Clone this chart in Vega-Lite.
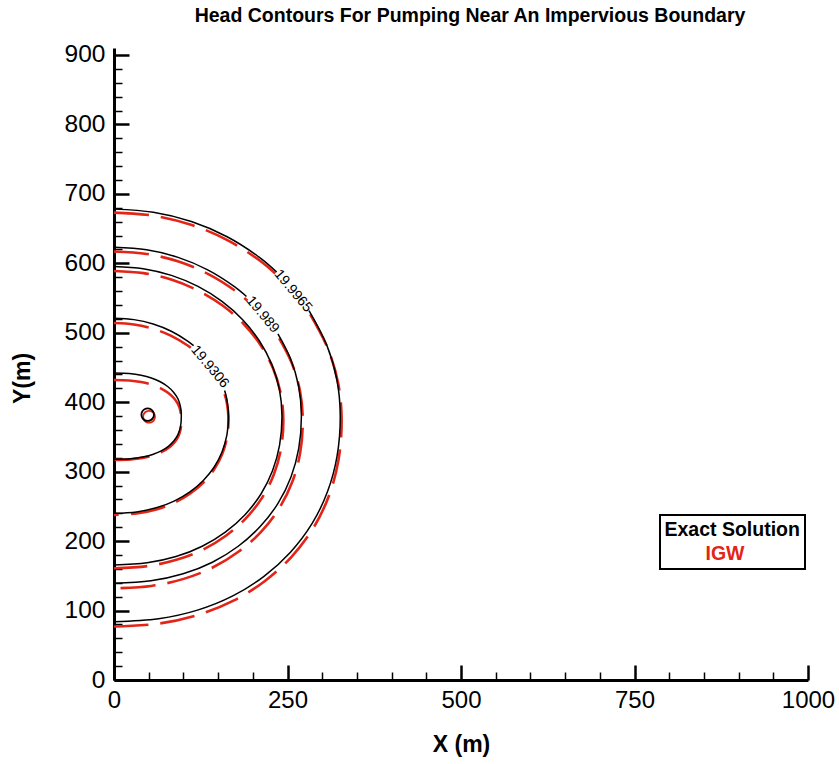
{
  "$schema": "https://vega.github.io/schema/vega-lite/v6.json",
  "autosize": {"type": "none"},
  "padding": {"left": 114, "top": 48, "right": 31, "bottom": 84},
  "width": 694,
  "height": 632,
  "background": "white",
  "title": {
    "text": "Head Contours For Pumping Near An Impervious Boundary",
    "font": "Liberation Sans",
    "fontSize": 19.5,
    "fontWeight": "bold",
    "color": "black",
    "anchor": "middle",
    "offset": 15,
    "dx": 9
  },
  "config": {"view": {"stroke": null}},
  "datasets": {
    "contours": [
      {"s": "Exact Solution", "g": "B1", "i": 0, "x": 0, "y": 442},
      {"s": "Exact Solution", "g": "B1", "i": 1, "x": 21.9, "y": 441.2},
      {"s": "Exact Solution", "g": "B1", "i": 2, "x": 39, "y": 438.8},
      {"s": "Exact Solution", "g": "B1", "i": 3, "x": 53.8, "y": 434.9},
      {"s": "Exact Solution", "g": "B1", "i": 4, "x": 66.6, "y": 429.4},
      {"s": "Exact Solution", "g": "B1", "i": 5, "x": 77.3, "y": 422.6},
      {"s": "Exact Solution", "g": "B1", "i": 6, "x": 85.8, "y": 414.4},
      {"s": "Exact Solution", "g": "B1", "i": 7, "x": 92.1, "y": 404.9},
      {"s": "Exact Solution", "g": "B1", "i": 8, "x": 95.7, "y": 394},
      {"s": "Exact Solution", "g": "B1", "i": 9, "x": 97, "y": 380},
      {"s": "Exact Solution", "g": "B1", "i": 10, "x": 95.8, "y": 364.7},
      {"s": "Exact Solution", "g": "B1", "i": 11, "x": 92.3, "y": 353.7},
      {"s": "Exact Solution", "g": "B1", "i": 12, "x": 86.4, "y": 344.4},
      {"s": "Exact Solution", "g": "B1", "i": 13, "x": 78.4, "y": 336.5},
      {"s": "Exact Solution", "g": "B1", "i": 14, "x": 68.1, "y": 329.9},
      {"s": "Exact Solution", "g": "B1", "i": 15, "x": 55.7, "y": 324.8},
      {"s": "Exact Solution", "g": "B1", "i": 16, "x": 41.1, "y": 321},
      {"s": "Exact Solution", "g": "B1", "i": 17, "x": 24, "y": 318.7},
      {"s": "Exact Solution", "g": "B1", "i": 18, "x": 0, "y": 318},

      {"s": "Exact Solution", "g": "B2a", "i": 0, "x": 0, "y": 521},
      {"s": "Exact Solution", "g": "B2a", "i": 1, "x": 28.7, "y": 518.9},
      {"s": "Exact Solution", "g": "B2a", "i": 2, "x": 56.4, "y": 512.6},
      {"s": "Exact Solution", "g": "B2a", "i": 3, "x": 82.5, "y": 502.2},
      {"s": "Exact Solution", "g": "B2a", "i": 4, "x": 106.1, "y": 488.1},
      {"s": "Exact Solution", "g": "B2a", "i": 5, "x": 114.7, "y": 481.5},
      {"s": "Exact Solution", "g": "B2b", "i": 0, "x": 159.4, "y": 416.9},
      {"s": "Exact Solution", "g": "B2b", "i": 1, "x": 162.5, "y": 404.9},
      {"s": "Exact Solution", "g": "B2b", "i": 2, "x": 165, "y": 380.5},
      {"s": "Exact Solution", "g": "B2b", "i": 3, "x": 162.7, "y": 352.8},
      {"s": "Exact Solution", "g": "B2b", "i": 4, "x": 155.8, "y": 328.7},
      {"s": "Exact Solution", "g": "B2b", "i": 5, "x": 144.4, "y": 306.7},
      {"s": "Exact Solution", "g": "B2b", "i": 6, "x": 128.7, "y": 287.3},
      {"s": "Exact Solution", "g": "B2b", "i": 7, "x": 109.4, "y": 270.9},
      {"s": "Exact Solution", "g": "B2b", "i": 8, "x": 86.6, "y": 257.6},
      {"s": "Exact Solution", "g": "B2b", "i": 9, "x": 60.9, "y": 247.9},
      {"s": "Exact Solution", "g": "B2b", "i": 10, "x": 32.5, "y": 242},
      {"s": "Exact Solution", "g": "B2b", "i": 11, "x": 0, "y": 240},

      {"s": "Exact Solution", "g": "B3", "i": 0, "x": 0, "y": 595.5},
      {"s": "Exact Solution", "g": "B3", "i": 1, "x": 42.1, "y": 592.3},
      {"s": "Exact Solution", "g": "B3", "i": 2, "x": 82.8, "y": 582.6},
      {"s": "Exact Solution", "g": "B3", "i": 3, "x": 121, "y": 566.7},
      {"s": "Exact Solution", "g": "B3", "i": 4, "x": 155.6, "y": 545.2},
      {"s": "Exact Solution", "g": "B3", "i": 5, "x": 185.4, "y": 518.8},
      {"s": "Exact Solution", "g": "B3", "i": 6, "x": 209.6, "y": 488.1},
      {"s": "Exact Solution", "g": "B3", "i": 7, "x": 227.5, "y": 454.1},
      {"s": "Exact Solution", "g": "B3", "i": 8, "x": 238.4, "y": 418},
      {"s": "Exact Solution", "g": "B3", "i": 9, "x": 242, "y": 380.6},
      {"s": "Exact Solution", "g": "B3", "i": 10, "x": 238.6, "y": 338.3},
      {"s": "Exact Solution", "g": "B3", "i": 11, "x": 228.4, "y": 301.3},
      {"s": "Exact Solution", "g": "B3", "i": 12, "x": 211.8, "y": 267.8},
      {"s": "Exact Solution", "g": "B3", "i": 13, "x": 188.8, "y": 238.1},
      {"s": "Exact Solution", "g": "B3", "i": 14, "x": 160.4, "y": 213},
      {"s": "Exact Solution", "g": "B3", "i": 15, "x": 127.1, "y": 192.6},
      {"s": "Exact Solution", "g": "B3", "i": 16, "x": 89.3, "y": 177.7},
      {"s": "Exact Solution", "g": "B3", "i": 17, "x": 47.7, "y": 168.7},
      {"s": "Exact Solution", "g": "B3", "i": 18, "x": 0, "y": 165.7},

      {"s": "Exact Solution", "g": "B4a", "i": 0, "x": 0, "y": 623},
      {"s": "Exact Solution", "g": "B4a", "i": 1, "x": 47, "y": 619.4},
      {"s": "Exact Solution", "g": "B4a", "i": 2, "x": 92.3, "y": 608.5},
      {"s": "Exact Solution", "g": "B4a", "i": 3, "x": 135, "y": 590.6},
      {"s": "Exact Solution", "g": "B4a", "i": 4, "x": 173.6, "y": 566.4},
      {"s": "Exact Solution", "g": "B4a", "i": 5, "x": 190.9, "y": 552.2},
      {"s": "Exact Solution", "g": "B4b", "i": 0, "x": 236.2, "y": 498.5},
      {"s": "Exact Solution", "g": "B4b", "i": 1, "x": 253.8, "y": 463.9},
      {"s": "Exact Solution", "g": "B4b", "i": 2, "x": 266, "y": 423.3},
      {"s": "Exact Solution", "g": "B4b", "i": 3, "x": 270, "y": 381.2},
      {"s": "Exact Solution", "g": "B4b", "i": 4, "x": 266.2, "y": 333.6},
      {"s": "Exact Solution", "g": "B4b", "i": 5, "x": 254.9, "y": 292},
      {"s": "Exact Solution", "g": "B4b", "i": 6, "x": 236.3, "y": 254.3},
      {"s": "Exact Solution", "g": "B4b", "i": 7, "x": 210.6, "y": 220.9},
      {"s": "Exact Solution", "g": "B4b", "i": 8, "x": 179, "y": 192.6},
      {"s": "Exact Solution", "g": "B4b", "i": 9, "x": 141.8, "y": 169.6},
      {"s": "Exact Solution", "g": "B4b", "i": 10, "x": 99.6, "y": 152.9},
      {"s": "Exact Solution", "g": "B4b", "i": 11, "x": 53.2, "y": 142.8},
      {"s": "Exact Solution", "g": "B4b", "i": 12, "x": 0, "y": 139.3},

      {"s": "Exact Solution", "g": "B5a", "i": 0, "x": 0, "y": 678},
      {"s": "Exact Solution", "g": "B5a", "i": 1, "x": 56.7, "y": 673.5},
      {"s": "Exact Solution", "g": "B5a", "i": 2, "x": 111.5, "y": 660.2},
      {"s": "Exact Solution", "g": "B5a", "i": 3, "x": 163, "y": 638.2},
      {"s": "Exact Solution", "g": "B5a", "i": 4, "x": 209.6, "y": 608.5},
      {"s": "Exact Solution", "g": "B5a", "i": 5, "x": 234.4, "y": 587.4},
      {"s": "Exact Solution", "g": "B5b", "i": 0, "x": 281, "y": 531.9},
      {"s": "Exact Solution", "g": "B5b", "i": 1, "x": 306.4, "y": 482.6},
      {"s": "Exact Solution", "g": "B5b", "i": 2, "x": 321.1, "y": 432.7},
      {"s": "Exact Solution", "g": "B5b", "i": 3, "x": 326, "y": 381},
      {"s": "Exact Solution", "g": "B5b", "i": 4, "x": 321.4, "y": 322.5},
      {"s": "Exact Solution", "g": "B5b", "i": 5, "x": 307.7, "y": 271.4},
      {"s": "Exact Solution", "g": "B5b", "i": 6, "x": 285.3, "y": 225.1},
      {"s": "Exact Solution", "g": "B5b", "i": 7, "x": 254.3, "y": 184.1},
      {"s": "Exact Solution", "g": "B5b", "i": 8, "x": 216.1, "y": 149.3},
      {"s": "Exact Solution", "g": "B5b", "i": 9, "x": 171.2, "y": 121.1},
      {"s": "Exact Solution", "g": "B5b", "i": 10, "x": 120.3, "y": 100.6},
      {"s": "Exact Solution", "g": "B5b", "i": 11, "x": 64.2, "y": 88.2},
      {"s": "Exact Solution", "g": "B5b", "i": 12, "x": 0, "y": 84},

      {"s": "IGW", "g": "R1", "i": 0, "x": 0, "y": 432},
      {"s": "IGW", "g": "R1", "i": 1, "x": 21.9, "y": 431.3},
      {"s": "IGW", "g": "R1", "i": 2, "x": 39, "y": 429.1},
      {"s": "IGW", "g": "R1", "i": 3, "x": 53.8, "y": 425.4},
      {"s": "IGW", "g": "R1", "i": 4, "x": 66.6, "y": 420.3},
      {"s": "IGW", "g": "R1", "i": 5, "x": 77.3, "y": 414},
      {"s": "IGW", "g": "R1", "i": 6, "x": 85.8, "y": 406.4},
      {"s": "IGW", "g": "R1", "i": 7, "x": 92.1, "y": 397.6},
      {"s": "IGW", "g": "R1", "i": 8, "x": 95.7, "y": 387.5},
      {"s": "IGW", "g": "R1", "i": 9, "x": 97, "y": 374.5},
      {"s": "IGW", "g": "R1", "i": 10, "x": 95.8, "y": 360.3},
      {"s": "IGW", "g": "R1", "i": 11, "x": 92.3, "y": 350.1},
      {"s": "IGW", "g": "R1", "i": 12, "x": 86.4, "y": 341.5},
      {"s": "IGW", "g": "R1", "i": 13, "x": 78.4, "y": 334.1},
      {"s": "IGW", "g": "R1", "i": 14, "x": 68.1, "y": 328},
      {"s": "IGW", "g": "R1", "i": 15, "x": 55.7, "y": 323.3},
      {"s": "IGW", "g": "R1", "i": 16, "x": 41.1, "y": 319.8},
      {"s": "IGW", "g": "R1", "i": 17, "x": 24, "y": 317.7},
      {"s": "IGW", "g": "R1", "i": 18, "x": 0, "y": 317},

      {"s": "IGW", "g": "R2a", "i": 0, "x": 0, "y": 514},
      {"s": "IGW", "g": "R2a", "i": 1, "x": 28.7, "y": 511.9},
      {"s": "IGW", "g": "R2a", "i": 2, "x": 56.4, "y": 505.7},
      {"s": "IGW", "g": "R2a", "i": 3, "x": 82.5, "y": 495.5},
      {"s": "IGW", "g": "R2a", "i": 4, "x": 106.1, "y": 481.7},
      {"s": "IGW", "g": "R2a", "i": 5, "x": 114.7, "y": 475.2},
      {"s": "IGW", "g": "R2b", "i": 0, "x": 159.4, "y": 411.7},
      {"s": "IGW", "g": "R2b", "i": 1, "x": 162.5, "y": 399.9},
      {"s": "IGW", "g": "R2b", "i": 2, "x": 165, "y": 375.9},
      {"s": "IGW", "g": "R2b", "i": 3, "x": 162.7, "y": 348.7},
      {"s": "IGW", "g": "R2b", "i": 4, "x": 155.8, "y": 324.9},
      {"s": "IGW", "g": "R2b", "i": 5, "x": 144.4, "y": 303.4},
      {"s": "IGW", "g": "R2b", "i": 6, "x": 128.7, "y": 284.3},
      {"s": "IGW", "g": "R2b", "i": 7, "x": 109.4, "y": 268.2},
      {"s": "IGW", "g": "R2b", "i": 8, "x": 86.6, "y": 255.1},
      {"s": "IGW", "g": "R2b", "i": 9, "x": 60.9, "y": 245.5},
      {"s": "IGW", "g": "R2b", "i": 10, "x": 32.5, "y": 239.7},
      {"s": "IGW", "g": "R2b", "i": 11, "x": 0, "y": 237.7},

      {"s": "IGW", "g": "R3", "i": 0, "x": 0, "y": 589},
      {"s": "IGW", "g": "R3", "i": 1, "x": 42.5, "y": 585.8},
      {"s": "IGW", "g": "R3", "i": 2, "x": 83.4, "y": 576.2},
      {"s": "IGW", "g": "R3", "i": 3, "x": 122, "y": 560.3},
      {"s": "IGW", "g": "R3", "i": 4, "x": 156.9, "y": 538.9},
      {"s": "IGW", "g": "R3", "i": 5, "x": 186.9, "y": 512.6},
      {"s": "IGW", "g": "R3", "i": 6, "x": 211.3, "y": 482},
      {"s": "IGW", "g": "R3", "i": 7, "x": 229.4, "y": 448.2},
      {"s": "IGW", "g": "R3", "i": 8, "x": 240.3, "y": 412.2},
      {"s": "IGW", "g": "R3", "i": 9, "x": 244, "y": 375},
      {"s": "IGW", "g": "R3", "i": 10, "x": 240.6, "y": 332.8},
      {"s": "IGW", "g": "R3", "i": 11, "x": 230.3, "y": 296},
      {"s": "IGW", "g": "R3", "i": 12, "x": 213.5, "y": 262.6},
      {"s": "IGW", "g": "R3", "i": 13, "x": 190.3, "y": 233.1},
      {"s": "IGW", "g": "R3", "i": 14, "x": 161.8, "y": 208.1},
      {"s": "IGW", "g": "R3", "i": 15, "x": 128.1, "y": 187.7},
      {"s": "IGW", "g": "R3", "i": 16, "x": 90, "y": 173},
      {"s": "IGW", "g": "R3", "i": 17, "x": 48.1, "y": 164},
      {"s": "IGW", "g": "R3", "i": 18, "x": 0, "y": 161},

      {"s": "IGW", "g": "R4a", "i": 0, "x": 0, "y": 617},
      {"s": "IGW", "g": "R4a", "i": 1, "x": 47.3, "y": 613.4},
      {"s": "IGW", "g": "R4a", "i": 2, "x": 93, "y": 602.5},
      {"s": "IGW", "g": "R4a", "i": 3, "x": 136, "y": 584.5},
      {"s": "IGW", "g": "R4a", "i": 4, "x": 174.9, "y": 560.3},
      {"s": "IGW", "g": "R4a", "i": 5, "x": 192.3, "y": 546},
      {"s": "IGW", "g": "R4b", "i": 0, "x": 238, "y": 492.1},
      {"s": "IGW", "g": "R4b", "i": 1, "x": 255.7, "y": 457.4},
      {"s": "IGW", "g": "R4b", "i": 2, "x": 267.9, "y": 416.7},
      {"s": "IGW", "g": "R4b", "i": 3, "x": 272, "y": 374.5},
      {"s": "IGW", "g": "R4b", "i": 4, "x": 268.2, "y": 326.7},
      {"s": "IGW", "g": "R4b", "i": 5, "x": 256.8, "y": 285},
      {"s": "IGW", "g": "R4b", "i": 6, "x": 238, "y": 247.2},
      {"s": "IGW", "g": "R4b", "i": 7, "x": 212.2, "y": 213.7},
      {"s": "IGW", "g": "R4b", "i": 8, "x": 180.3, "y": 185.3},
      {"s": "IGW", "g": "R4b", "i": 9, "x": 142.8, "y": 162.3},
      {"s": "IGW", "g": "R4b", "i": 10, "x": 100.4, "y": 145.6},
      {"s": "IGW", "g": "R4b", "i": 11, "x": 53.6, "y": 135.4},
      {"s": "IGW", "g": "R4b", "i": 12, "x": 0, "y": 132},

      {"s": "IGW", "g": "R5a", "i": 0, "x": 0, "y": 673},
      {"s": "IGW", "g": "R5a", "i": 1, "x": 57.1, "y": 668.5},
      {"s": "IGW", "g": "R5a", "i": 2, "x": 112.2, "y": 655.1},
      {"s": "IGW", "g": "R5a", "i": 3, "x": 164, "y": 633.1},
      {"s": "IGW", "g": "R5a", "i": 4, "x": 210.9, "y": 603.3},
      {"s": "IGW", "g": "R5a", "i": 5, "x": 235.9, "y": 582.1},
      {"s": "IGW", "g": "R5b", "i": 0, "x": 282.7, "y": 526.4},
      {"s": "IGW", "g": "R5b", "i": 1, "x": 308.3, "y": 476.9},
      {"s": "IGW", "g": "R5b", "i": 2, "x": 323.1, "y": 426.9},
      {"s": "IGW", "g": "R5b", "i": 3, "x": 328, "y": 375},
      {"s": "IGW", "g": "R5b", "i": 4, "x": 323.4, "y": 316.3},
      {"s": "IGW", "g": "R5b", "i": 5, "x": 309.6, "y": 265},
      {"s": "IGW", "g": "R5b", "i": 6, "x": 287, "y": 218.5},
      {"s": "IGW", "g": "R5b", "i": 7, "x": 255.8, "y": 177.4},
      {"s": "IGW", "g": "R5b", "i": 8, "x": 217.5, "y": 142.6},
      {"s": "IGW", "g": "R5b", "i": 9, "x": 172.2, "y": 114.2},
      {"s": "IGW", "g": "R5b", "i": 10, "x": 121, "y": 93.7},
      {"s": "IGW", "g": "R5b", "i": 11, "x": 64.6, "y": 81.2},
      {"s": "IGW", "g": "R5b", "i": 12, "x": 0, "y": 77}
    ],
    "wells": [
      {"s": "IGW", "g": "RW", "i": 0, "x": 59, "y": 379},
      {"s": "IGW", "g": "RW", "i": 1, "x": 57.9, "y": 383.3},
      {"s": "IGW", "g": "RW", "i": 2, "x": 54.8, "y": 386.4},
      {"s": "IGW", "g": "RW", "i": 3, "x": 50.5, "y": 387.5},
      {"s": "IGW", "g": "RW", "i": 4, "x": 46.3, "y": 386.4},
      {"s": "IGW", "g": "RW", "i": 5, "x": 43.1, "y": 383.3},
      {"s": "IGW", "g": "RW", "i": 6, "x": 42, "y": 379},
      {"s": "IGW", "g": "RW", "i": 7, "x": 43.1, "y": 374.8},
      {"s": "IGW", "g": "RW", "i": 8, "x": 46.3, "y": 371.6},
      {"s": "IGW", "g": "RW", "i": 9, "x": 50.5, "y": 370.5},
      {"s": "IGW", "g": "RW", "i": 10, "x": 54.8, "y": 371.6},
      {"s": "IGW", "g": "RW", "i": 11, "x": 57.9, "y": 374.8},
      {"s": "Exact Solution", "g": "BW", "i": 0, "x": 57.5, "y": 382},
      {"s": "Exact Solution", "g": "BW", "i": 1, "x": 56.3, "y": 386.5},
      {"s": "Exact Solution", "g": "BW", "i": 2, "x": 53, "y": 389.8},
      {"s": "Exact Solution", "g": "BW", "i": 3, "x": 48.5, "y": 391},
      {"s": "Exact Solution", "g": "BW", "i": 4, "x": 44, "y": 389.8},
      {"s": "Exact Solution", "g": "BW", "i": 5, "x": 40.7, "y": 386.5},
      {"s": "Exact Solution", "g": "BW", "i": 6, "x": 39.5, "y": 382},
      {"s": "Exact Solution", "g": "BW", "i": 7, "x": 40.7, "y": 377.5},
      {"s": "Exact Solution", "g": "BW", "i": 8, "x": 44, "y": 374.2},
      {"s": "Exact Solution", "g": "BW", "i": 9, "x": 48.5, "y": 373},
      {"s": "Exact Solution", "g": "BW", "i": 10, "x": 53, "y": 374.2},
      {"s": "Exact Solution", "g": "BW", "i": 11, "x": 56.3, "y": 377.5}
    ],
    "labels": [
      {"label": "19.9306", "x": 138, "y": 451},
      {"label": "19.989", "x": 214, "y": 526},
      {"label": "19.9965", "x": 258, "y": 560}
    ]
  },
  "resolve": {"axis": {"x": "independent", "y": "independent"}},
  "layer": [
    {
      "data": {"name": "contours"},
      "transform": [{"filter": "datum.s === 'IGW'"}],
      "mark": {"type": "line", "interpolate": "catmull-rom", "strokeWidth": 2.6, "strokeDash": [35, 12], "strokeCap": "butt"},
      "encoding": {
        "x": {
          "field": "x", "type": "quantitative",
          "scale": {"domain": [0, 1000], "nice": false, "zero": false},
          "axis": {
            "orient": "bottom", "values": [0, 250, 500, 750, 1000], "format": "d",
            "grid": false, "tickSize": -15, "tickWidth": 2.5, "tickColor": "black",
            "domainColor": "black", "domainWidth": 3,
            "labelFont": "Liberation Sans", "labelFontSize": 24, "labelColor": "black",
            "labelPadding": 23, "labelFlush": false, "labelOverlap": false,
            "title": "X (m)", "titleFont": "Liberation Sans", "titleFontSize": 23,
            "titleFontWeight": "bold", "titleColor": "black", "titlePadding": 21
          }
        },
        "y": {
          "field": "y", "type": "quantitative",
          "scale": {"domain": [0, 910], "nice": false, "zero": false},
          "axis": {
            "orient": "left", "values": [0, 100, 200, 300, 400, 500, 600, 700, 800, 900], "format": "d",
            "grid": false, "tickSize": -15, "tickWidth": 2.5, "tickColor": "black",
            "domainColor": "black", "domainWidth": 3,
            "labelFont": "Liberation Sans", "labelFontSize": 24.5, "labelColor": "black",
            "labelPadding": 24, "labelFlush": false, "labelOverlap": false,
            "title": "Y(m)", "titleFont": "Liberation Sans", "titleFontSize": 23,
            "titleFontWeight": "bold", "titleColor": "black", "titlePadding": 30, "titleY": 330
          }
        },
        "color": {
          "field": "s", "type": "nominal",
          "scale": {"domain": ["Exact Solution", "IGW"], "range": ["#000000", "#e32417"]},
          "legend": {
            "orient": "none", "legendX": 546, "legendY": 467, "title": null,
            "symbolSize": 0.0001, "symbolOpacity": 0, "symbolStrokeWidth": 0, "labelOffset": -20,
            "labelFont": "Liberation Sans", "labelFontSize": 19.5, "labelFontWeight": "bold",
            "labelLimit": 400, "padding": 5, "rowPadding": 3,
            "strokeColor": "black", "fillColor": "white",
            "encode": {
              "labels": {"update": {
                "fill": {"signal": "datum.label === 'IGW' ? '#e32417' : '#000000'"},
                "dx": {"signal": "datum.label === 'IGW' ? 41 : 0"}
              }},
              "legend": {"update": {"strokeWidth": {"value": 2}}}
            }
          }
        },
        "detail": {"field": "g"},
        "order": {"field": "i", "type": "quantitative"}
      }
    },
    {
      "data": {"name": "contours"},
      "transform": [{"filter": "datum.s === 'Exact Solution'"}],
      "mark": {"type": "line", "interpolate": "catmull-rom", "strokeWidth": 1.5},
      "encoding": {
        "x": {
          "field": "x", "type": "quantitative",
          "axis": {
            "orient": "bottom",
            "values": [50, 100, 150, 200, 300, 350, 400, 450, 550, 600, 650, 700, 800, 850, 900, 950],
            "grid": false, "domain": false, "labels": false, "title": null,
            "tickSize": -8, "tickWidth": 1.5, "tickColor": "black"
          }
        },
        "y": {
          "field": "y", "type": "quantitative",
          "axis": {
            "orient": "left",
            "values": [20, 40, 60, 80, 120, 140, 160, 180, 220, 240, 260, 280, 320, 340, 360, 380, 420, 440, 460, 480, 520, 540, 560, 580, 620, 640, 660, 680, 720, 740, 760, 780, 820, 840, 860, 880],
            "grid": false, "domain": false, "labels": false, "title": null,
            "tickSize": -8, "tickWidth": 1.5, "tickColor": "black"
          }
        },
        "color": {"field": "s", "type": "nominal"},
        "detail": {"field": "g"},
        "order": {"field": "i", "type": "quantitative"}
      }
    },
    {
      "data": {"name": "wells"},
      "mark": {"type": "line", "interpolate": "cardinal-closed", "strokeWidth": 1.8},
      "encoding": {
        "x": {"field": "x", "type": "quantitative", "axis": null},
        "y": {"field": "y", "type": "quantitative", "axis": null},
        "color": {"field": "s", "type": "nominal"},
        "detail": {"field": "g"},
        "order": {"field": "i", "type": "quantitative"}
      }
    },
    {
      "data": {"name": "labels"},
      "mark": {"type": "text", "angle": 50, "font": "Liberation Sans", "fontSize": 14, "color": "black", "align": "center", "baseline": "middle"},
      "encoding": {
        "x": {"field": "x", "type": "quantitative", "axis": null},
        "y": {"field": "y", "type": "quantitative", "axis": null},
        "text": {"field": "label"}
      }
    }
  ]
}
